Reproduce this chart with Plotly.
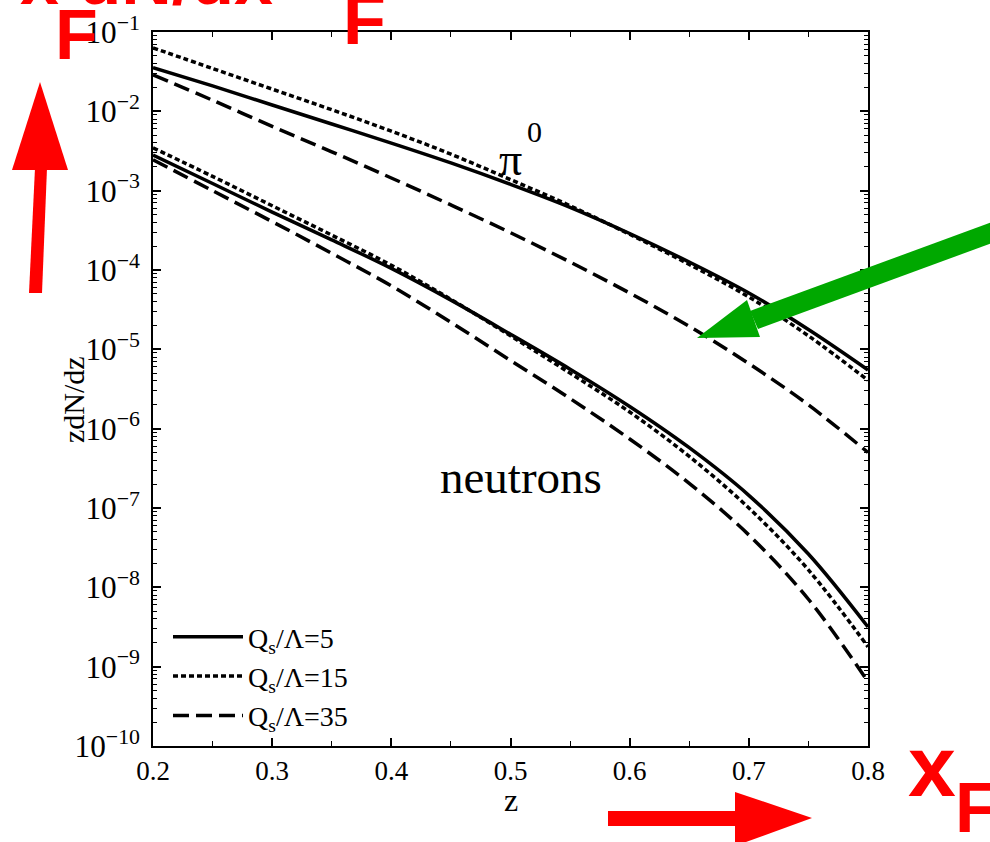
import plotly.graph_objects as go

# ---------------- data ----------------
z = [0.2, 0.25, 0.3, 0.35, 0.4, 0.45, 0.5, 0.55, 0.6, 0.65, 0.7, 0.75, 0.8]

pi0_qs5 = [3.548e-2, 2.089e-2, 1.202e-2, 6.918e-3, 3.981e-3, 2.239e-3, 1.202e-3,
           6.166e-4, 2.884e-4, 1.259e-4, 5.129e-5, 1.778e-5, 5.495e-6]
pi0_qs15 = [6.310e-2, 3.467e-2, 1.905e-2, 1.047e-2, 5.623e-3, 2.884e-3, 1.380e-3,
            6.457e-4, 2.818e-4, 1.175e-4, 4.571e-5, 1.479e-5, 4.074e-6]
pi0_qs35 = [2.884e-2, 1.380e-2, 6.457e-3, 3.090e-3, 1.445e-3, 6.607e-4, 2.951e-4,
            1.259e-4, 5.129e-5, 1.950e-5, 6.607e-6, 1.995e-6, 5.012e-7]

n_qs5 = [2.818e-3, 1.230e-3, 5.370e-4, 2.399e-4, 1.047e-4, 4.169e-5, 1.549e-5,
         5.623e-6, 1.905e-6, 5.754e-7, 1.445e-7, 2.630e-8, 3.162e-9]
n_qs15 = [3.467e-3, 1.514e-3, 6.457e-4, 2.754e-4, 1.148e-4, 4.266e-5, 1.479e-5,
          5.012e-6, 1.622e-6, 4.467e-7, 1.000e-7, 1.660e-8, 1.778e-9]
n_qs35 = [2.455e-3, 1.000e-3, 4.074e-4, 1.622e-4, 6.310e-5, 2.188e-5, 7.244e-6,
          2.399e-6, 7.413e-7, 2.042e-7, 4.571e-8, 7.079e-9, 6.457e-10]

series_names = ["Q<sub>s</sub>/Λ=5", "Q<sub>s</sub>/Λ=15", "Q<sub>s</sub>/Λ=35"]
dashes = ["solid", "5px,3px", "16px,7px"]

x_ticks = [0.2, 0.3, 0.4, 0.5, 0.6, 0.7, 0.8]

# ---------------- figure ----------------
W, H = 990, 842
L, R, T, B = 153, 868, 32, 746   # plot area in pixels
SERIF = "Liberation Serif, Times New Roman, serif"
SANS = "Liberation Sans, Arial, sans-serif"

fig = go.Figure()
for name, dash, pv, nv in zip(series_names, dashes,
                              [pi0_qs5, pi0_qs15, pi0_qs35],
                              [n_qs5, n_qs15, n_qs35]):
    fig.add_trace(go.Scatter(x=z, y=pv, mode="lines", name=name, legendgroup=name,
                             line=dict(color="black", width=3.5, dash=dash,
                                       shape="spline", smoothing=1.0)))
    fig.add_trace(go.Scatter(x=z, y=nv, mode="lines", name=name, legendgroup=name,
                             showlegend=False,
                             line=dict(color="black", width=3.5, dash=dash,
                                       shape="spline", smoothing=1.0)))


def px(xp):
    return (xp - L) / (R - L)


def py(yp):
    return (B - yp) / (B - T)


def poly(points, color):
    path = "M " + " L ".join(f"{px(a):.5f},{py(b):.5f}" for a, b in points) + " Z"
    return dict(type="path", xref="paper", yref="paper", path=path,
                fillcolor=color, line=dict(width=0), layer="above")


RED = "#ff0000"
GREEN = "#00a800"
shapes = [
    # red up arrow (left)
    poly([(29, 293), (42, 293), (47, 168), (35, 168)], RED),
    poly([(12, 170), (68, 170), (40, 82)], RED),
    # red right arrow (bottom)
    poly([(608, 811), (737, 811), (737, 826), (608, 826)], RED),
    poly([(735, 792), (735, 846), (812, 818)], RED),
    # green arrow
    poly([(750, 311), (992, 222), (992, 243), (758, 329)], GREEN),
    poly([(697, 338), (747, 300), (760, 337)], GREEN),
]


def label(text, xp, yp, size, color="black", family=SERIF, xanchor="center", angle=0):
    return dict(text=text, x=px(xp), y=py(yp), xref="paper", yref="paper",
                xanchor=xanchor, yanchor="middle", textangle=angle, showarrow=False,
                font=dict(family=family, size=size, color=color))


annotations = [
    label("zdN/dz", 74, 400, 30, angle=-90),
    label("z", 511, 800, 32),
    label("neutrons", 521, 477, 47),
    label("π", 510, 159, 46),
    label("0", 534, 132, 30),
    # red labels
    label("<b>x dN/dx</b>", 18, -20, 70, color=RED, family=SANS, xanchor="left"),
    label("<b>F</b>", 53, 35, 70, color=RED, family=SANS, xanchor="left"),
    label("<b>F</b>", 341, 20, 70, color=RED, family=SANS, xanchor="left"),
    label("<b>x</b>", 906, 766, 86, color=RED, family=SANS, xanchor="left"),
    label("<b>F</b>", 953, 808, 70, color=RED, family=SANS, xanchor="left"),
]

fig.update_layout(
    width=W, height=H,
    margin=dict(l=L, r=W - R, t=T, b=H - B, autoexpand=False),
    paper_bgcolor="white", plot_bgcolor="white",
    showlegend=True,
    legend=dict(x=px(168), y=py(612), xanchor="left", yanchor="top",
                bgcolor="rgba(0,0,0,0)", font=dict(family=SERIF, size=28, color="black"),
                tracegroupgap=0, itemwidth=70),
    shapes=shapes,
    annotations=annotations,
)

fig.update_xaxes(range=[0.2, 0.8], tickvals=x_ticks, ticktext=[f"{v:.1f}" for v in x_ticks],
                 showgrid=False, zeroline=False,
                 showline=True, linecolor="black", linewidth=2, mirror="ticks",
                 ticks="inside", ticklen=8, tickwidth=1.5, tickcolor="black",
                 minor=dict(ticks="inside", ticklen=5, tickwidth=1.2, tickcolor="black",
                            dtick=0.05, showgrid=False),
                 tickfont=dict(family=SERIF, size=27, color="black"))
fig.update_yaxes(type="log", range=[-10, -1], dtick=1, exponentformat="power",
                 showgrid=False, zeroline=False,
                 showline=True, linecolor="black", linewidth=2, mirror="ticks",
                 ticks="inside", ticklen=8, tickwidth=1.5, tickcolor="black",
                 minor=dict(ticks="inside", ticklen=4, tickwidth=1, tickcolor="black",
                            showgrid=False),
                 ticklabelstandoff=6,
                 tickfont=dict(family=SERIF, size=25, color="black"))

fig.write_html("out.html")
